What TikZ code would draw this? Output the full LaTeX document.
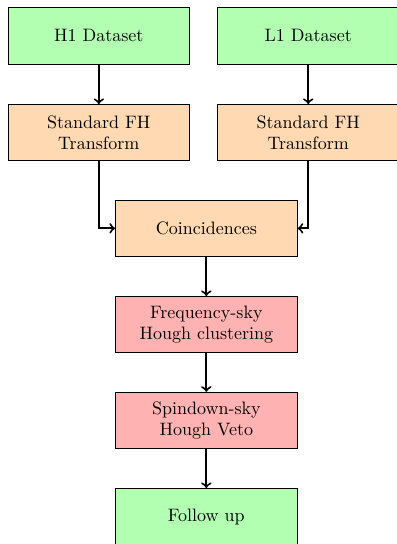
\documentclass[tikz,border=0pt]{standalone}
\usepackage{amsmath}
\usepackage{tikz}

\begin{document}
\begin{tikzpicture}[
    databox/.style={draw,fill=green!30,minimum width=3.55cm,minimum height=1.1cm,align=center},
    procbox/.style={draw,fill=orange!30,minimum width=3.55cm,minimum height=1.1cm,align=center},
    houghbox/.style={draw,fill=red!30,minimum width=3.55cm,minimum height=1.1cm,align=center},
    flow/.style={->,black,line width=1.1pt}]
    \useasboundingbox (0,0) rectangle (7.75,-10.625);
    \node[databox] (h1) at (1.93,-0.70) {H1 Dataset};
    \node[databox] (l1) at (6.02,-0.70) {L1 Dataset};
    \node[procbox] (fhA) at (1.93,-2.59) {Standard FH\\Transform};
    \node[procbox] (fhB) at (6.02,-2.59) {Standard FH\\Transform};
    \node[procbox] (coinc) at (4.03,-4.46) {Coincidences};
    \node[houghbox] (freq) at (4.03,-6.34) {Frequency-sky\\Hough clustering};
    \node[houghbox] (spin) at (4.03,-8.21) {Spindown-sky\\Hough Veto};
    \node[databox] (follow) at (4.03,-10.09) {Follow up};
    \draw [flow](h1) -- (fhA);
    \draw [flow](l1) -- (fhB);
    \draw [flow](fhA.south) |- (coinc.west);
    \draw [flow](fhB.south) |- (coinc.east);
    \draw [flow](coinc) -- (freq);
    \draw [flow](freq) -- (spin);
    \draw [flow](spin) -- (follow);
\end{tikzpicture}
\end{document}
